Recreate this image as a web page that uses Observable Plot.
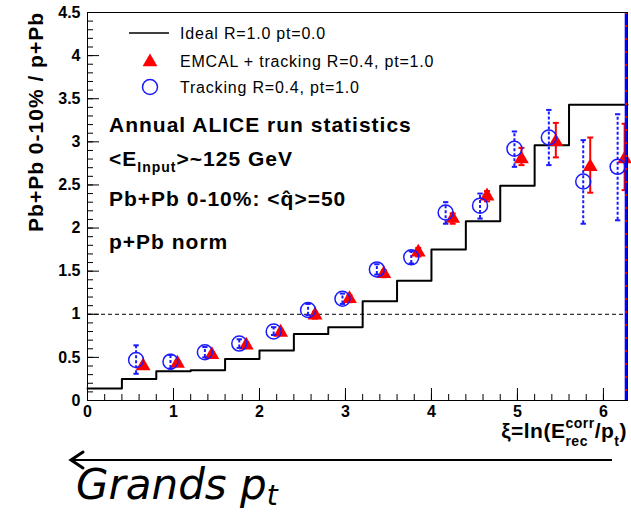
<!DOCTYPE html>
<html><head><meta charset="utf-8">
<script src="https://cdn.jsdelivr.net/npm/d3@7"></script>
<script src="https://cdn.jsdelivr.net/npm/@observablehq/plot@0.6"></script>
<style>
body{margin:0;background:#fff;}
#wrap{width:631px;height:515px;}
</style></head><body><div id="wrap"></div>
<script>
// ---- data ----
const stepEdges   = [0,0.4,0.8,1.2,1.6,2.0,2.4,2.8,3.2,3.6,4.0,4.4,4.8,5.2,5.6,6.28];
const idealValues = [0.14,0.25,0.34,0.35,0.48,0.58,0.77,0.85,1.15,1.39,1.75,2.08,2.49,2.96,3.43,3.43];

const xiCenters   = [0.6,1.0,1.4,1.8,2.2,2.6,3.0,3.4,3.8,4.2,4.6,5.0,5.4,5.8,6.2];
const emcalValues = [0.40,0.43,0.53,0.64,0.79,0.99,1.18,1.47,1.72,2.11,2.37,2.80,3.00,2.71,2.80];
const emcalLow    = [0.37,0.40,0.50,0.61,0.76,0.95,1.14,1.43,1.67,2.05,2.31,2.73,2.82,2.41,2.44];
const emcalHigh   = [0.43,0.46,0.56,0.67,0.82,1.03,1.22,1.51,1.77,2.17,2.43,2.93,3.22,3.05,3.21];
const trackValues = [0.47,0.45,0.56,0.66,0.80,1.05,1.18,1.52,1.66,2.18,2.26,2.92,3.05,2.54,2.71];
const trackLow    = [0.31,0.37,0.50,0.61,0.76,0.99,1.12,1.46,1.59,2.05,2.11,2.71,2.73,2.05,2.09];
const trackHigh   = [0.64,0.53,0.62,0.71,0.85,1.12,1.24,1.58,1.73,2.30,2.40,3.12,3.37,3.02,3.32];
const edgeBarX    = [6.265];
const refLine     = [1];

const xMajor = [0,1,2,3,4,5,6];
const xMinor = d3.range(0, 31).map(i => +(i*0.2).toFixed(1));
const yMajor = [0,0.5,1,1.5,2,2.5,3,3.5,4,4.5];
const yMinor = d3.range(0, 46).map(i => +(i*0.1).toFixed(1));

const legendLabels = ["Ideal R=1.0 pt=0.0", "EMCAL + tracking R=0.4, pt=1.0", "Tracking R=0.4, pt=1.0"];
const yTitle = "Pb+Pb 0-10% / p+Pb";

// ---- tables ----
const ideal = stepEdges.map((x,i) => ({x, y: idealValues[i]}));
const emcal = xiCenters.map((x,i) => ({x, y: emcalValues[i], lo: emcalLow[i], hi: emcalHigh[i]}));
const track = xiCenters.map((x,i) => ({x, y: trackValues[i], lo: trackLow[i], hi: trackHigh[i]}));

const W = 631, H = 515, mL = 87, mR = 4, mT = 12, mB = 115;
const innerW = W - mL - mR, innerH = H - mT - mB;
const RED = "#ff0000", BLUE = "#1a1aff";
const FONT = "'Liberation Sans', Arial, Helvetica, sans-serif";
const capSym = {draw(ctx, size){ const r = Math.sqrt(size)/2; ctx.moveTo(-r,0); ctx.lineTo(r,0); }};

const chart = Plot.plot({
  width: W, height: H,
  marginLeft: mL, marginRight: mR, marginTop: mT, marginBottom: mB,
  x: {domain: [0, 6.28]},
  y: {domain: [0, 4.5]},
  style: {fontFamily: FONT, fontSize: "16px", fontWeight: "bold", color: "black", background: "white"},
  marks: [
    Plot.ruleX(xMinor, {insetTop: innerH - 6, stroke: "black"}),
    Plot.ruleX(xMajor, {insetTop: innerH - 12, stroke: "black"}),
    Plot.ruleY(yMinor, {insetRight: innerW - 6, stroke: "black"}),
    Plot.ruleY(yMajor, {insetRight: innerW - 12, stroke: "black"}),
    Plot.axisX({ticks: xMajor, tickSize: 0, tickPadding: 5, label: null, tickFormat: d => d}),
    Plot.axisY({ticks: yMajor, tickSize: 0, tickPadding: 7, label: null, tickFormat: d => d}),
    Plot.ruleY(refLine, {stroke: "black", strokeDasharray: "4,3", strokeWidth: 1}),
    Plot.line(ideal, {x: "x", y: "y", curve: "step-after", stroke: "black", strokeWidth: 2}),
    Plot.ruleX(emcal, {x: "x", y1: "lo", y2: "hi", dx: 4, stroke: RED, strokeWidth: 2}),
    Plot.dot(emcal, {x: "x", y: "lo", dx: 4, symbol: capSym, r: 3.4, stroke: RED, strokeWidth: 2}),
    Plot.dot(emcal, {x: "x", y: "hi", dx: 4, symbol: capSym, r: 3.4, stroke: RED, strokeWidth: 2}),
    Plot.dot(emcal, {x: "x", y: "y", dx: 4, symbol: "triangle", r: 5.5, fill: RED, stroke: "none"}),
    Plot.ruleX(track, {x: "x", y1: "lo", y2: "hi", dx: -3, stroke: BLUE, strokeWidth: 2, strokeDasharray: "3,2"}),
    Plot.dot(track, {x: "x", y: "lo", dx: -3, symbol: capSym, r: 3, stroke: BLUE, strokeWidth: 2}),
    Plot.dot(track, {x: "x", y: "hi", dx: -3, symbol: capSym, r: 3, stroke: BLUE, strokeWidth: 2}),
    Plot.dot(track, {x: "x", y: "y", dx: -3, r: 7.5, stroke: BLUE, strokeWidth: 1.5, fill: "none"}),
    Plot.ruleX(edgeBarX, {stroke: "#0000ff", strokeWidth: 3}),
    Plot.ruleX(edgeBarX, {stroke: RED, strokeWidth: 2, strokeDasharray: "2,11"}),
    Plot.frame({stroke: "black", strokeWidth: 1})
  ]
});
document.getElementById("wrap").appendChild(chart);

const svg = d3.select(chart);

// rich text helper: segments placed left to right; "stack" segment starts where previous began
function rich(x, y, segs, opts = {}) {
  const g = svg.append("g")
    .attr("font-family", opts.family || FONT)
    .attr("font-weight", opts.weight || "bold")
    .attr("font-style", opts.style || "normal")
    .attr("text-anchor", "start")
    .attr("fill", "black");
  let cx = 0, lastStart = 0;
  for (const s of segs) {
    const sx = s.stack ? lastStart : cx;
    const t = g.append("text").attr("x", sx).attr("y", s.shift || 0)
      .attr("text-anchor", "start")
      .attr("font-size", s.size).attr("letter-spacing", s.ls ?? (opts.ls ?? 0)).text(s.text);
    const w = t.node().getComputedTextLength();
    if (s.stack) cx = Math.max(cx, sx + w);
    else { lastStart = sx; cx = sx + w; }
  }
  const tx = opts.anchor === "end" ? x - cx : x;
  g.attr("transform", `translate(${tx},${y})`);
  return g;
}

// y-axis title
svg.append("text")
  .attr("transform", "translate(43,12) rotate(-90)")
  .attr("text-anchor", "end")
  .attr("font-family", FONT).attr("font-weight", "bold").attr("font-size", 21)
  .attr("letter-spacing", 1)
  .text(yTitle);

// x-axis title  ξ=ln(E_rec^corr / p_t)
rich(627, 438, [
  {text: "ξ=ln(E", size: 21},
  {text: "corr", size: 14, shift: -10},
  {text: "rec", size: 14, shift: 8, stack: true},
  {text: "/p", size: 21},
  {text: "t", size: 14, shift: 8},
  {text: ")", size: 21}
], {anchor: "end", ls: 0.5});

// legend
const lg = svg.append("g").attr("text-anchor", "start");
lg.append("line").attr("x1", 129).attr("x2", 169).attr("y1", 33).attr("y2", 33)
  .attr("stroke", "black").attr("stroke-width", 1.5);
lg.append("path").attr("transform", "translate(150,62)")
  .attr("d", d3.symbol(d3.symbolTriangle, Math.PI*5.5*5.5)()).attr("fill", RED);
lg.append("circle").attr("cx", 150).attr("cy", 87).attr("r", 7.5)
  .attr("fill", "none").attr("stroke", BLUE).attr("stroke-width", 1.5);
[39, 67, 93].forEach((yy, i) => {
  lg.append("text").attr("x", 180).attr("y", yy)
    .attr("font-family", FONT).attr("font-weight", "normal").attr("font-size", 16)
    .attr("letter-spacing", 0.8).text(legendLabels[i]);
});

// annotations
rich(109, 132, [{text: "Annual ALICE run statistics", size: 21}], {ls: 1});
rich(109, 166, [
  {text: "<E", size: 21},
  {text: "Input", size: 14, shift: 6},
  {text: ">~125 GeV", size: 21}
], {ls: 1});
rich(109, 206, [{text: "Pb+Pb 0-10%: <q\u0302>=50", size: 21}], {ls: 1});
rich(109, 249, [{text: "p+Pb norm", size: 21}], {ls: 1});

// bottom arrow
const ag = svg.append("g").attr("stroke", "black").attr("fill", "none");
ag.append("line").attr("x1", 612).attr("x2", 71).attr("y1", 460).attr("y2", 460).attr("stroke-width", 2);
ag.append("path").attr("d", "M83,452 L71,460 L83,468").attr("stroke-width", 3).attr("stroke-linecap", "round");

// Grands p_t
rich(76, 499, [
  {text: "Grands p", size: 42},
  {text: "t", size: 28, shift: 6}
], {family: "'DejaVu Sans', sans-serif", weight: "normal", style: "italic"});
</script></body></html>
